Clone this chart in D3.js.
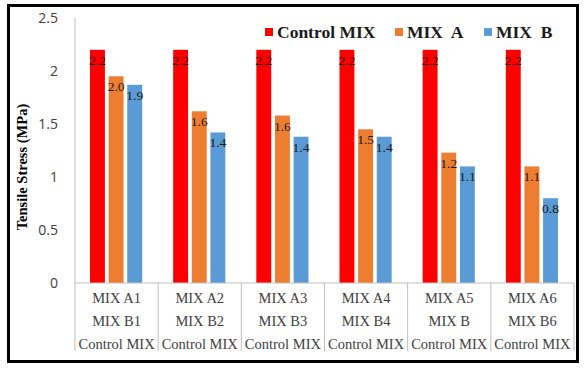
<!DOCTYPE html>
<html>
<head>
<meta charset="utf-8">
<script src="https://cdn.jsdelivr.net/npm/d3@7"></script>
<style>
  body { margin: 0; background: #fff; }
</style>
</head>
<body>
<div id="chart"></div>
<script>
// categories (three label lines each)
const catLine1 = ["MIX A1", "MIX A2", "MIX A3", "MIX A4", "MIX A5", "MIX A6"];
const catLine2 = ["MIX B1", "MIX B2", "MIX B3", "MIX B4", "MIX B", "MIX B6"];
const catLine3 = ["Control MIX", "Control MIX", "Control MIX", "Control MIX", "Control MIX", "Control MIX"];

// series values
const controlMix = [2.2, 2.2, 2.2, 2.2, 2.2, 2.2];
const mixA = [1.95, 1.62, 1.58, 1.45, 1.23, 1.1];
const mixB = [1.87, 1.42, 1.38, 1.38, 1.1, 0.8];

// labels shown on the bars
const controlLabels = ["2.2", "2.2", "2.2", "2.2", "2.2", "2.2"];
const mixALabels = ["2.0", "1.6", "1.6", "1.5", "1.2", "1.1"];
const mixBLabels = ["1.9", "1.4", "1.4", "1.4", "1.1", "0.8"];

const seriesNames = ["Control MIX", "MIX  A", "MIX  B"];
const yTicks = [0, 0.5, 1, 1.5, 2, 2.5];

const colors = ["#ff0000", "#ed7d31", "#5b9bd5"];

const width = 586, height = 372;
const plot = { left: 75, right: 574, top: 18, bottom: 283 };

const svg = d3.select("#chart").append("svg")
    .attr("width", width)
    .attr("height", height);

// outer frame
svg.append("rect")
    .attr("x", 8.5).attr("y", 5.5)
    .attr("width", 569).attr("height", 356)
    .attr("fill", "#fff")
    .attr("stroke", "#000")
    .attr("stroke-width", 3);

// scales
const x = d3.scaleBand()
    .domain(d3.range(catLine1.length))
    .range([plot.left, plot.right]);

const x1 = d3.scaleBand()
    .domain(d3.range(3))
    .range([15, x.bandwidth() - 16])
    .paddingInner(0.2);

const y = d3.scaleLinear()
    .domain([0, 2.5])
    .range([plot.bottom, plot.top]);

// y axis line
svg.append("line")
    .attr("x1", plot.left).attr("x2", plot.left)
    .attr("y1", y(2.5)).attr("y2", plot.bottom)
    .attr("stroke", "#bfbfbf");

// y tick labels
svg.selectAll(".ytick")
    .data(yTicks)
    .join("text")
    .attr("class", "ytick")
    .attr("x", 58)
    .attr("y", d => y(d))
    .attr("dy", "0.35em")
    .attr("text-anchor", "end")
    .attr("font-family", "'Open Sans', sans-serif")
    .attr("font-size", 14)
    .attr("fill", "#404040")
    .text(d => d);

// y title
svg.append("text")
    .attr("transform", "translate(27,167) rotate(-90)")
    .attr("text-anchor", "middle")
    .attr("font-family", "'Liberation Serif', serif")
    .attr("font-weight", "bold")
    .attr("font-size", 14.5)
    .attr("fill", "#000")
    .text("Tensile Stress (MPa)");

// bars
const series = [controlMix, mixA, mixB];
const labels = [controlLabels, mixALabels, mixBLabels];

series.forEach((vals, s) => {
    const g = svg.append("g");
    g.selectAll("rect")
        .data(vals)
        .join("rect")
        .attr("x", (d, i) => x(i) + x1(s))
        .attr("y", d => y(d))
        .attr("width", x1.bandwidth())
        .attr("height", d => plot.bottom - y(d))
        .attr("fill", colors[s]);
    g.selectAll("text")
        .data(vals)
        .join("text")
        .attr("x", (d, i) => x(i) + x1(s) + x1.bandwidth() / 2)
        .attr("y", d => y(d) + 15)
        .attr("text-anchor", "middle")
        .attr("font-family", "'Liberation Serif', serif")
        .attr("font-size", 13.5)
        .attr("fill", "#1a1a1a")
        .text((d, i) => labels[s][i]);
});

// x axis line and separators
svg.append("line")
    .attr("x1", plot.left).attr("x2", plot.right)
    .attr("y1", plot.bottom).attr("y2", plot.bottom)
    .attr("stroke", "#bfbfbf");

svg.selectAll(".sep")
    .data(d3.range(catLine1.length + 1))
    .join("line")
    .attr("class", "sep")
    .attr("x1", i => i < catLine1.length ? x(i) : plot.right)
    .attr("x2", i => i < catLine1.length ? x(i) : plot.right)
    .attr("y1", plot.bottom).attr("y2", 351)
    .attr("stroke", "#bfbfbf");

// category labels
[catLine1, catLine2, catLine3].forEach((lines, k) => {
    svg.selectAll(".cat" + k)
        .data(lines)
        .join("text")
        .attr("class", "cat" + k)
        .attr("x", (d, i) => x(i) + x.bandwidth() / 2)
        .attr("y", 303 + k * 23)
        .attr("text-anchor", "middle")
        .attr("font-family", "'Liberation Serif', serif")
        .attr("font-size", 14.5)
        .attr("fill", "#404040")
        .text(d => d);
});

// legend
const legendX = [265, 395, 484];
const legend = svg.selectAll(".legend")
    .data(seriesNames)
    .join("g")
    .attr("class", "legend")
    .attr("transform", (d, i) => `translate(${legendX[i]},32)`);

legend.append("rect")
    .attr("x", 0).attr("y", -4)
    .attr("width", 8).attr("height", 8)
    .attr("fill", (d, i) => colors[i]);

legend.append("text")
    .attr("x", 12)
    .attr("dy", "0.35em")
    .attr("font-family", "'Liberation Serif', serif")
    .attr("font-weight", "bold")
    .attr("font-size", 17.5)
    .attr("fill", "#1a1a1a")
    .style("white-space", "pre")
    .text(d => d);
</script>
</body>
</html>
